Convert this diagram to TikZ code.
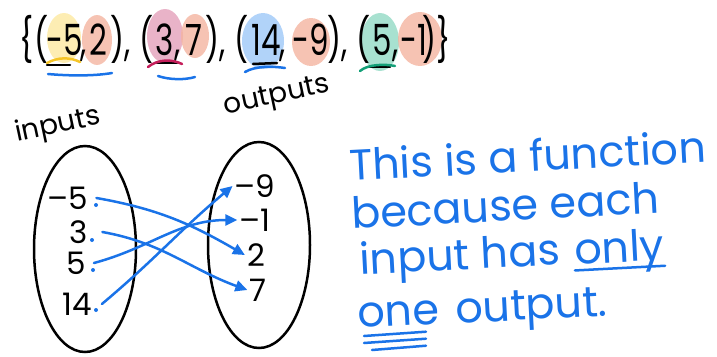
\documentclass[tikz,border=0pt]{standalone}
\usepackage{fontspec}
\setmainfont{Poppins}
\newfontfamily\pairfont[FakeStretch=0.72]{Poppins}
\usetikzlibrary{arrows.meta,positioning,shapes.geometric}

\definecolor{penblue}{RGB}{26,115,232}
\definecolor{hlyellow}{RGB}{253,233,160}
\definecolor{hlsalmon}{RGB}{244,180,160}
\definecolor{hlpink}{RGB}{228,160,186}
\definecolor{hlblue}{RGB}{158,200,248}
\definecolor{hlgreen}{RGB}{146,218,196}
\definecolor{penyellow}{RGB}{245,197,40}
\definecolor{pencrimson}{RGB}{196,30,90}
\definecolor{pengreen}{RGB}{20,160,120}

\begin{document}
\begin{tikzpicture}[
    x=1pt, y=-1pt,
    pair/.style={anchor=base, inner sep=0pt,
                 font=\pairfont\fontsize{43}{50}\selectfont},
    blob/.style={fill=#1, fill opacity=0.8, draw=none},
    stroke/.style={line width=2.5pt, line cap=round},
    setname/.style={rotate=12, inner sep=0pt, font=\fontsize{28}{30}\selectfont},
    oval/.style={draw, ellipse, line width=2.5pt, minimum width=102pt,
                 minimum height=206pt},
    elem/.style={inner sep=2pt, font=\fontsize{31}{34}\selectfont},
    note/.style={text=penblue, anchor=base west, inner sep=0pt, rotate=3,
                 font=\fontsize{43}{50}\selectfont},
    map/.style={-{Triangle[length=12pt,width=11pt]}, penblue,
                line width=2.5pt, line cap=round},
]
    \useasboundingbox (0,0) rectangle (717,356);

    % highlight blobs behind the pairs
    \fill[blob=hlyellow] (64,38) ellipse [x radius=17pt, y radius=25pt];
    \fill[blob=hlsalmon] (97,40) ellipse [x radius=15pt, y radius=25pt];
    \fill[blob=hlpink]   (165,36) ellipse [x radius=18pt, y radius=27pt];
    \fill[blob=hlsalmon] (195,36) ellipse [x radius=14pt, y radius=22pt];
    \fill[blob=hlblue]   (263,41) ellipse [x radius=21pt, y radius=28pt];
    \fill[blob=hlsalmon] (311,42) ellipse [x radius=19pt, y radius=24pt];
    \fill[blob=hlgreen]  (380,42) ellipse [x radius=19pt, y radius=29pt];
    \fill[blob=hlsalmon] (420,39) ellipse [x radius=22pt, y radius=27pt];

    % the set of pairs
    \node[pair] (lb) at (34,55)  {\{(};
    \node[pair] (a1) at (65,55)  {-5};
    \node[pair] (c1) at (84,55)  {,};
    \node[pair] (b1) at (98,55)  {2};
    \node[pair] (s1) at (132,55) {), (};
    \node[pair] (a2) at (165,55) {3};
    \node[pair] (c2) at (178,55) {,};
    \node[pair] (b2) at (194,55) {7};
    \node[pair] (s2) at (227,55) {), (};
    \node[pair] (a3) at (266,55) {14};
    \node[pair] (c3) at (283,55) {,};
    \node[pair] (b3) at (311,55) {-9};
    \node[pair] (s3) at (349,55) {), (};
    \node[pair] (a4) at (382,55) {5};
    \node[pair] (c4) at (396,55) {,};
    \node[pair] (b4) at (414,55) {-1};
    \node[pair] (rb) at (437,55) {)\}};

    % underlines
    \draw[stroke, penyellow]  (47,63) .. controls (58,57) and (70,57) .. (80,62);
    \draw[stroke]             (47,65) -- (70,65);
    \draw[stroke, penblue]    (48,74) .. controls (70,76) and (95,76) .. (112,73);
    \draw[stroke]             (157,63) -- (177,63);
    \draw[stroke, pencrimson] (148,67) .. controls (158,59) and (172,59) .. (182,64);
    \draw[stroke, penblue]    (158,76) .. controls (170,80) and (185,80) .. (195,77);
    \draw[stroke]             (253,64) -- (277,63);
    \draw[stroke, penblue]    (245,72) .. controls (255,66) and (272,66) .. (285,68);
    \draw[stroke]             (367,67) -- (390,67);
    \draw[stroke, pengreen]   (360,71) .. controls (368,64) and (385,64) .. (395,66);

    % mapping diagram
    \node[setname] (intag)  at (58,126) {inputs};
    \node[setname] (outtag) at (277,97) {outputs};
    \node[oval] (inset)  at (85,249)  {};
    \node[oval] (outset) at (259,245) {};

    \node[elem] (in1) at (68,198) {\textendash5};
    \node[elem] (in2) at (79,232) {3};
    \node[elem] (in3) at (76,263) {5};
    \node[elem] (in4) at (77,304) {14};
    \fill[penblue] (96,205) circle [radius=2pt];
    \fill[penblue] (92,240) circle [radius=2pt];
    \fill[penblue] (93,270) circle [radius=2pt];
    \fill[penblue] (96,310) circle [radius=2pt];

    \node[elem] (out1) at (255,186) {\textendash9};
    \node[elem] (out2) at (255,220) {\textendash1};
    \node[elem] (out3) at (256,255) {2};
    \node[elem] (out4) at (258,290) {7};

    \draw[map] ([xshift=6pt]in1.east) to[out=-10, in=150] (out3.west);
    \draw[map] ([xshift=12pt]in2.east) to[out=-10, in=160] (out4.west);
    \draw[map] ([xshift=6pt]in3.east) to[out=15, in=180] (out2.west);
    \draw[map] ([xshift=8pt]in4.east) to[out=40, in=220] (out1.west);

    % the explanation
    \node[note] (line1) at (350,181) {This is a function};
    \node[note] (line2) at (352,229) {because each};
    \node[note] (line3) at (360,275) {input has};
    \node[note, base right=14pt of line3] (only) {only};
    \node[note] (one)   at (358,328) {one};
    \node[note, base right=16pt of one] (line4) {output.};
    \draw[stroke, penblue] ([yshift=-6pt]only.base west) -- ([yshift=-6pt]only.base east);
    \draw[stroke, penblue] ([shift={(6pt,-8pt)}]one.base west) -- ([shift={(-14pt,-8pt)}]one.base east);
    \draw[stroke, penblue] ([shift={(6pt,-15pt)}]one.base west) -- ([shift={(-14pt,-15pt)}]one.base east);
    \draw[stroke, penblue] ([shift={(14pt,-22pt)}]one.base west) -- ([shift={(-14pt,-22pt)}]one.base east);
\end{tikzpicture}
\end{document}
